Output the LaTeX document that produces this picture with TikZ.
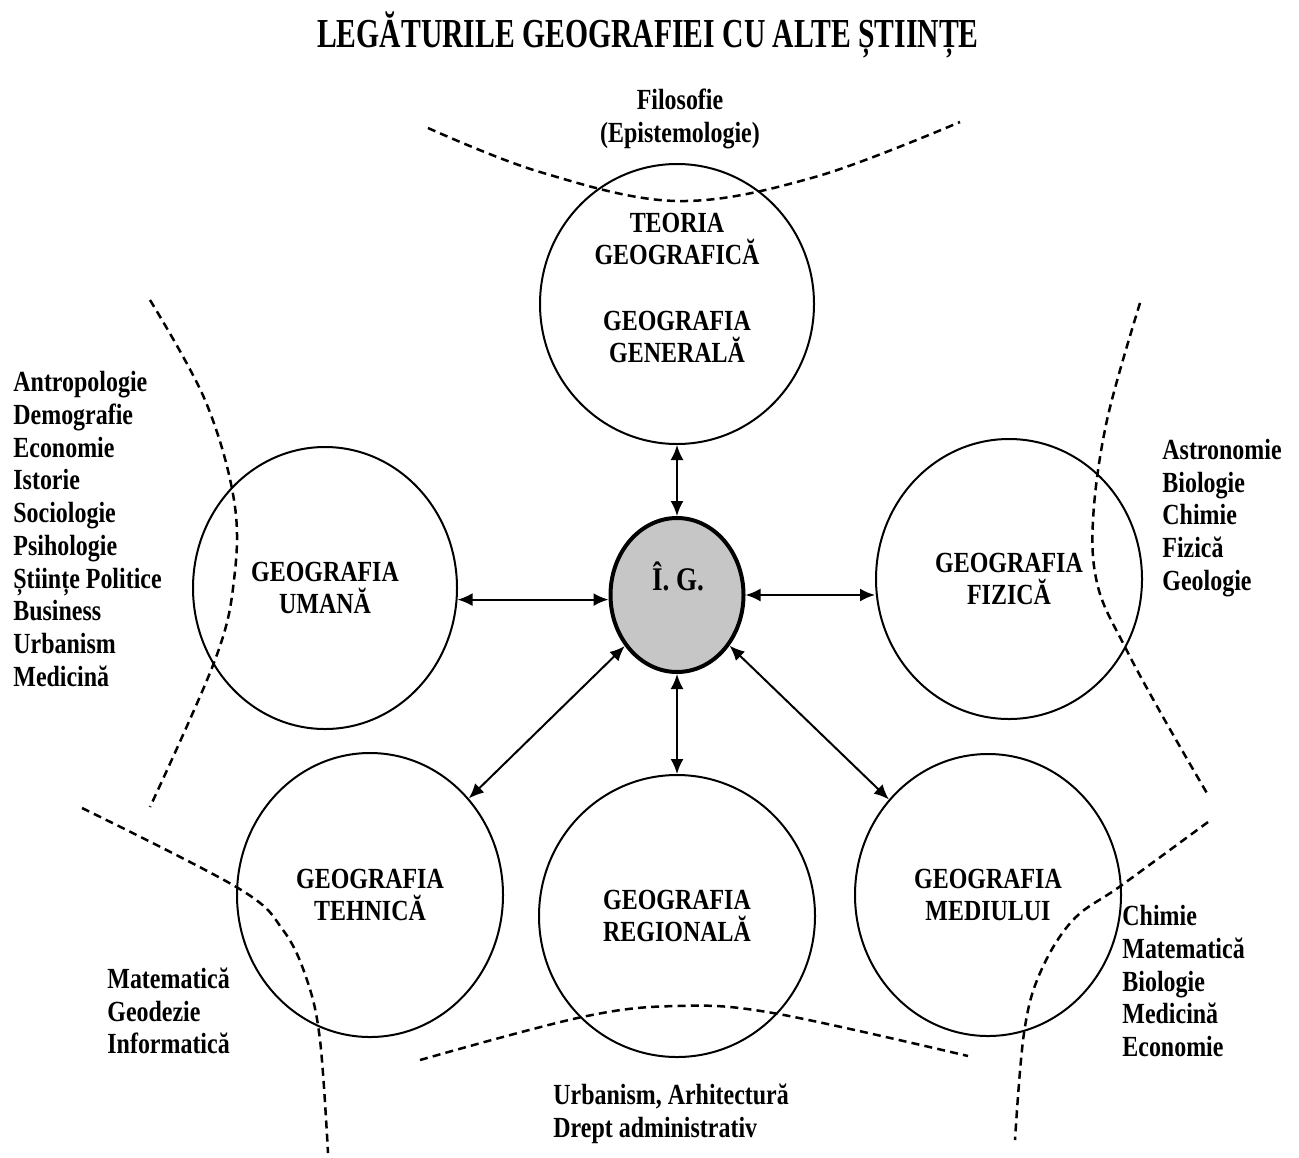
\documentclass[tikz,border=0pt]{standalone}
\usepackage{fontspec}
\newfontfamily\bodyfont[FakeStretch=0.82]{Liberation Serif}
\newfontfamily\titlefont[FakeStretch=0.72]{Liberation Serif}
\usetikzlibrary{shapes.geometric,arrows.meta}
\begin{document}
\begin{tikzpicture}[x=0.5pt,y=-0.5pt,
  txt/.style={inner sep=0pt, align=center, font=\bodyfont\bfseries\fontsize{14.6}{16.3}\selectfont},
  lst/.style={inner sep=0pt, align=left, anchor=west, font=\bodyfont\bfseries\fontsize{14.6}{16.35}\selectfont},
  circ/.style={ellipse, draw, line width=1pt, inner sep=0pt, align=center, font=\bodyfont\bfseries\fontsize{14.6}{16.3}\selectfont},
  link/.style={{Latex[length=7.5pt,width=6.5pt]}-{Latex[length=7.5pt,width=6.5pt]}, line width=1pt},
  divider/.style={line width=1.25pt, dash pattern=on 4pt off 2.6pt}
]
\useasboundingbox (0,0) rectangle (1299,1157);

% title
\node[inner sep=0pt, font=\titlefont\bfseries\fontsize{20.6}{22}\selectfont] (title) at (648,35) {LEGĂTURILE GEOGRAFIEI CU ALTE ȘTIINȚE};

% circles
\node[circ, minimum width=137pt, minimum height=140pt] (gen) at (677,304) {};
\node[txt] (genlbl) at (677,288) {TEORIA\\GEOGRAFICĂ\\[16.3pt]GEOGRAFIA\\GENERALĂ};
\node[circ, minimum width=132pt, minimum height=141pt] (uman) at (325,588) {GEOGRAFIA\\UMANĂ};
\node[circ, minimum width=133pt, minimum height=140pt] (fiz) at (1009,579) {GEOGRAFIA\\FIZICĂ};
\node[circ, minimum width=133pt, minimum height=142pt] (teh) at (370,895) {GEOGRAFIA\\TEHNICĂ};
\node[circ, minimum width=138pt, minimum height=141pt] (reg) at (677,916) {GEOGRAFIA\\REGIONALĂ};
\node[circ, minimum width=133pt, minimum height=141pt] (med) at (988,895) {GEOGRAFIA\\MEDIULUI};
\node[ellipse, draw, line width=2pt, fill=gray!45, minimum width=66.5pt, minimum height=77pt, inner sep=0pt] (ig) at (677,595) {};
\node[txt, font=\bodyfont\bfseries\fontsize{16.5}{18}\selectfont] (iglbl) at (678,576) {Î. G.};

% connectors
\draw[link] (gen) -- (ig);
\draw[link] (uman.-5) -- (uman.-5 -| ig.west);
\draw[link] (ig.east) -- (ig.east -| fiz.west);
\draw[link] (ig) -- (reg);
\draw[link] (ig) -- (teh);
\draw[link] (ig) -- (med);

% related sciences
\node[txt] (filo) at (680,119) {Filosofie\\(Epistemologie)};
\node[lst] (left) at (13,529) {Antropologie\\Demografie\\Economie\\Istorie\\Sociologie\\Psihologie\\Științe Politice\\Business\\Urbanism\\Medicină};
\node[lst] (right) at (1162,518) {Astronomie\\Biologie\\Chimie\\Fizică\\Geologie};
\node[lst] (bl) at (107,1011) {Matematică\\Geodezie\\Informatică};
\node[lst] (br) at (1122,981) {Chimie\\Matematică\\Biologie\\Medicină\\Economie};
\node[lst] (bot) at (553,1114) {Urbanism, Arhitectură\\Drept administrativ};

% dashed dividers
\draw[divider] plot[smooth, tension=0.6] coordinates {(428,128) (540,172) (677,201) (815,177) (960,122)};
\draw[divider] plot[smooth, tension=0.6] coordinates {(150,300) (205,400) (234,500) (234,580) (215,660) (150,807)};
\draw[divider] plot[smooth, tension=0.6] coordinates {(82,808) (238,888) (283,930) (307,980) (320,1040) (328,1153)};
\draw[divider] plot[smooth, tension=0.6] coordinates {(420,1060) (582,1017) (677,1006) (773,1013) (968,1056)};
\draw[divider] plot[smooth, tension=0.6] coordinates {(1140,303) (1107,420) (1093,520) (1098,587) (1125,647) (1163,717) (1208,795)};
\draw[divider] plot[smooth, tension=0.6] coordinates {(1208,822) (1122,885) (1073,920) (1040,973) (1024,1033) (1015,1140)};
\end{tikzpicture}
\end{document}
